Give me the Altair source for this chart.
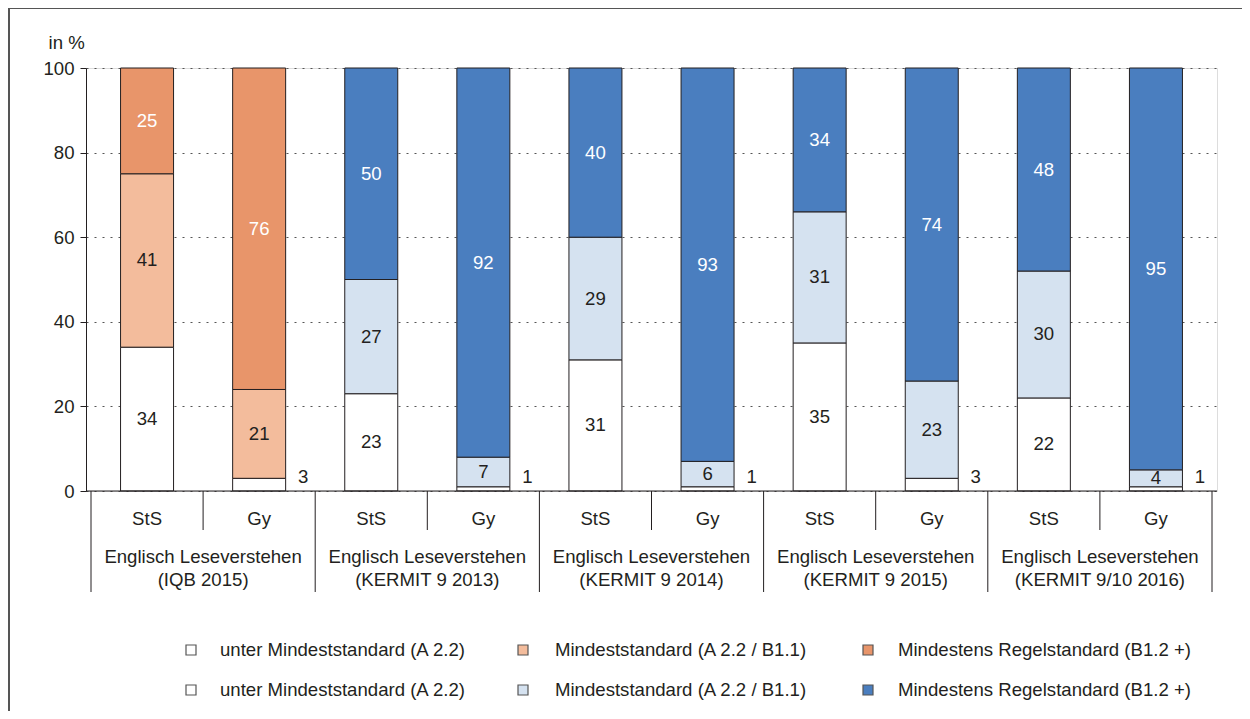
import altair as alt
import pandas as pd

# ---- data ----
group_line1 = ["Englisch Leseverstehen"] * 5
group_line2 = ["(IQB 2015)", "(KERMIT 9 2013)", "(KERMIT 9 2014)", "(KERMIT 9 2015)", "(KERMIT 9/10 2016)"]
schools = ["StS", "Gy"]
below_min = [34, 3, 23, 1, 31, 1, 35, 3, 22, 1]
minimum = [41, 21, 27, 7, 29, 6, 31, 23, 30, 4]
regular = [25, 76, 50, 92, 40, 93, 34, 74, 48, 95]
families = ["o", "b", "b", "b", "b"]
level_names = ["unter Mindeststandard (A 2.2)", "Mindeststandard (A 2.2 / B1.1)",
               "Mindestens Regelstandard (B1.2 +)"]

W, H = 1131, 423
TXT = "#231F20"
FONT = "Liberation Sans"
FS = 18.6

keys = ["o0", "o1", "o2", "b0", "b1", "b2"]
colors = ["#FFFFFF", "#F3BC9C", "#E8956A", "#FFFFFF", "#D5E2F0", "#4A7EBF"]

rows = []
for i in range(10):
    g = i // 2
    vals = [below_min[i], minimum[i], regular[i]]
    start = 0
    for k, v in enumerate(vals):
        rows.append({
            "xc": i + 0.5, "y0": start, "y1": start + v, "mid": start + v / 2,
            "val": v, "key": f"{families[g]}{k}", "level": k,
            "outside": v <= 3 and k == 0, "dark": k == 2,
        })
        start += v
df = pd.DataFrame(rows)

cats = pd.DataFrame({"xc": [i + 0.5 for i in range(10)], "lab": [schools[i % 2] for i in range(10)]})
grp = pd.DataFrame({"xg": [2 * g + 1 for g in range(5)], "l1": group_line1, "l2": group_line2})
seps = pd.DataFrame({"xs": list(range(11)), "long": [i % 2 == 0 for i in range(11)]})
one = pd.DataFrame({"a": [0]})

xscale = alt.Scale(domain=[0, 10], nice=False, zero=False)
yscale = alt.Scale(domain=[0, 100], nice=False, zero=True)

base = alt.Chart(df)

bars = base.mark_bar(width=53, stroke=TXT, strokeWidth=1).encode(
    x=alt.X("xc:Q", scale=xscale, axis=None),
    y=alt.Y("y0:Q", scale=yscale,
            axis=alt.Axis(values=[0, 20, 40, 60, 80, 100], grid=True, gridDash=[2, 6],
                          gridColor="#555555", gridWidth=1, domainColor=TXT, tickColor=TXT,
                          tickSize=6, labelFontSize=FS, labelColor=TXT, labelFont=FONT,
                          labelPadding=6, title="in %", titleAngle=0, titleFontSize=FS,
                          titleFont=FONT, titleFontWeight="normal", titleColor=TXT,
                          titleX=-38, titleY=-26, titleAlign="left", titleBaseline="middle")),
    y2="y1:Q",
    color=alt.Color("key:N", scale=alt.Scale(domain=keys, range=colors), legend=None),
)

inside = base.transform_filter("!datum.outside").mark_text(
    font=FONT, fontSize=FS, baseline="middle", align="center").encode(
    x="xc:Q", y="mid:Q", text="val:Q",
    color=alt.condition("datum.dark", alt.value("#FFFFFF"), alt.value(TXT)),
)

outside = base.transform_filter("datum.outside").mark_text(
    font=FONT, fontSize=FS, baseline="middle", align="center", dx=44, dy=-14, color=TXT).encode(
    x="xc:Q", y=alt.datum(0), text="val:Q",
)

baseline = alt.Chart(one).mark_rule(color=TXT, strokeWidth=1).encode(
    x=alt.value(0), x2=alt.value(W), y=alt.value(H))

sep_long = alt.Chart(seps).transform_filter("datum.long").mark_rule(color=TXT, strokeWidth=1).encode(
    x="xs:Q", y=alt.value(H), y2=alt.value(H + 101))
sep_short = alt.Chart(seps).transform_filter("!datum.long").mark_rule(color=TXT, strokeWidth=1).encode(
    x="xs:Q", y=alt.value(H), y2=alt.value(H + 39))

cat_text = alt.Chart(cats).mark_text(font=FONT, fontSize=FS, color=TXT, baseline="middle").encode(
    x="xc:Q", y=alt.value(H + 28), text="lab:N")
g1 = alt.Chart(grp).mark_text(font=FONT, fontSize=FS, color=TXT, baseline="middle").encode(
    x="xg:Q", y=alt.value(H + 66), text="l1:N")
g2 = alt.Chart(grp).mark_text(font=FONT, fontSize=FS, color=TXT, baseline="middle").encode(
    x="xg:Q", y=alt.value(H + 89), text="l2:N")

frame_top = alt.Chart(one).mark_rule(color="#555555", strokeWidth=2).encode(
    x=alt.value(-77), x2=alt.value(W + 25), y=alt.value(-60))
frame_left = alt.Chart(one).mark_rule(color="#555555", strokeWidth=2).encode(
    x=alt.value(-77), y=alt.value(-60), y2=alt.value(H + 230))

# legend (two rows, three columns)
leg_layers = []
sq_x = [105, 437, 782]
tx_x = [134, 469, 812]
row_y = [582, 622]
for r, fam in enumerate(["o", "b"]):
    for c in range(3):
        key = f"{fam}{c}"
        col = colors[keys.index(key)]
        leg_layers.append(alt.Chart(one).mark_square(size=100, fill=col, fillOpacity=1,
                                                    stroke="#555555", strokeWidth=1.2).encode(
            x=alt.value(sq_x[c]), y=alt.value(row_y[r])))
        leg_layers.append(alt.Chart(one).mark_text(text=level_names[c], font=FONT, fontSize=FS,
                                                  color=TXT, align="left", baseline="middle").encode(
            x=alt.value(tx_x[c]), y=alt.value(row_y[r])))

chart = alt.layer(
    bars, inside, outside, baseline, sep_long, sep_short, cat_text, g1, g2,
    frame_top, frame_left, *leg_layers
).properties(
    width=W, height=H,
    autosize=alt.AutoSizeParams(type="none"),
    padding={"left": 78, "top": 60, "right": 25, "bottom": 220},
).configure_view(stroke=None).configure(font=FONT)

chart.save("out.html", embed_options={"renderer": "svg", "actions": False})
